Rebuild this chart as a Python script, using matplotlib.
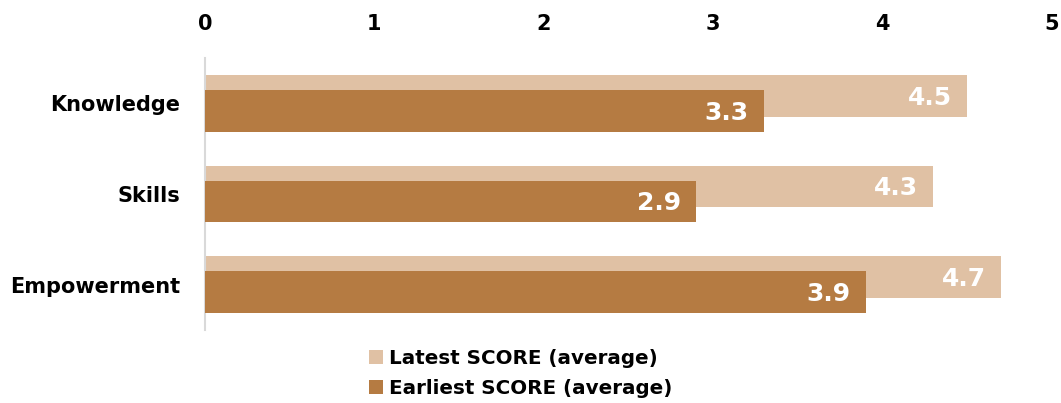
import matplotlib.pyplot as plt
import numpy as np

# --- Data ---
categories = ["Knowledge", "Skills", "Empowerment"]
latest = [4.5, 4.3, 4.7]
earliest = [3.3, 2.9, 3.9]
x_ticks = [0, 1, 2, 3, 4, 5]

LIGHT = "#E0C1A4"
DARK = "#B57B42"
FONT = "DejaVu Sans"

# --- Plot ---
fig = plt.figure(figsize=(10.61, 4.03), dpi=100)
ax = fig.add_axes([205 / 1061, 1 - 330 / 403, (1052 - 205) / 1061, 272 / 403])

y = np.arange(len(categories))
h = 0.46
off = 0.082

b_latest = ax.barh(y - off, latest, height=h, color=LIGHT, label="Latest SCORE (average)", zorder=2)
b_early = ax.barh(y + off, earliest, height=h, color=DARK, label="Earliest SCORE (average)", zorder=3)

# Value labels inside the bar ends
for yi, v in zip(y, latest):
    ax.text(v - 0.09, yi - off + 0.02, f"{v:.1f}", ha="right", va="center", color="white",
            fontsize=18, fontweight="bold", family=FONT, zorder=4)
for yi, v in zip(y, earliest):
    ax.text(v - 0.09, yi + off + 0.02, f"{v:.1f}", ha="right", va="center", color="white",
            fontsize=18, fontweight="bold", family=FONT, zorder=4)

ax.set_xlim(0, 5)
ax.set_ylim(2.5, -0.5)
ax.set_yticks(y)
ax.set_yticklabels(categories, fontsize=15, fontweight="bold", family=FONT)
ax.set_xticks(x_ticks)
ax.set_xticklabels([str(t) for t in x_ticks], fontsize=15, fontweight="bold", family=FONT)
ax.xaxis.tick_top()
ax.tick_params(axis="both", length=0)
ax.tick_params(axis="x", pad=17)
ax.tick_params(axis="y", pad=18)

for s in ["top", "right", "bottom"]:
    ax.spines[s].set_visible(False)
ax.spines["left"].set_color("#D9D9D9")
ax.spines["left"].set_linewidth(1.5)

fig.legend(handles=[b_latest, b_early], loc="upper left", bbox_to_anchor=(369 / 1061, 1 - 349 / 403),
           frameon=False, handlelength=0.68, handleheight=0.68, handletextpad=0.35,
           labelspacing=0.55, borderaxespad=0, borderpad=0,
           prop={"family": FONT, "weight": "bold", "size": 14.3})

# --- Render ---
fig.savefig("out.png", dpi=100, facecolor="white")
plt.close()
